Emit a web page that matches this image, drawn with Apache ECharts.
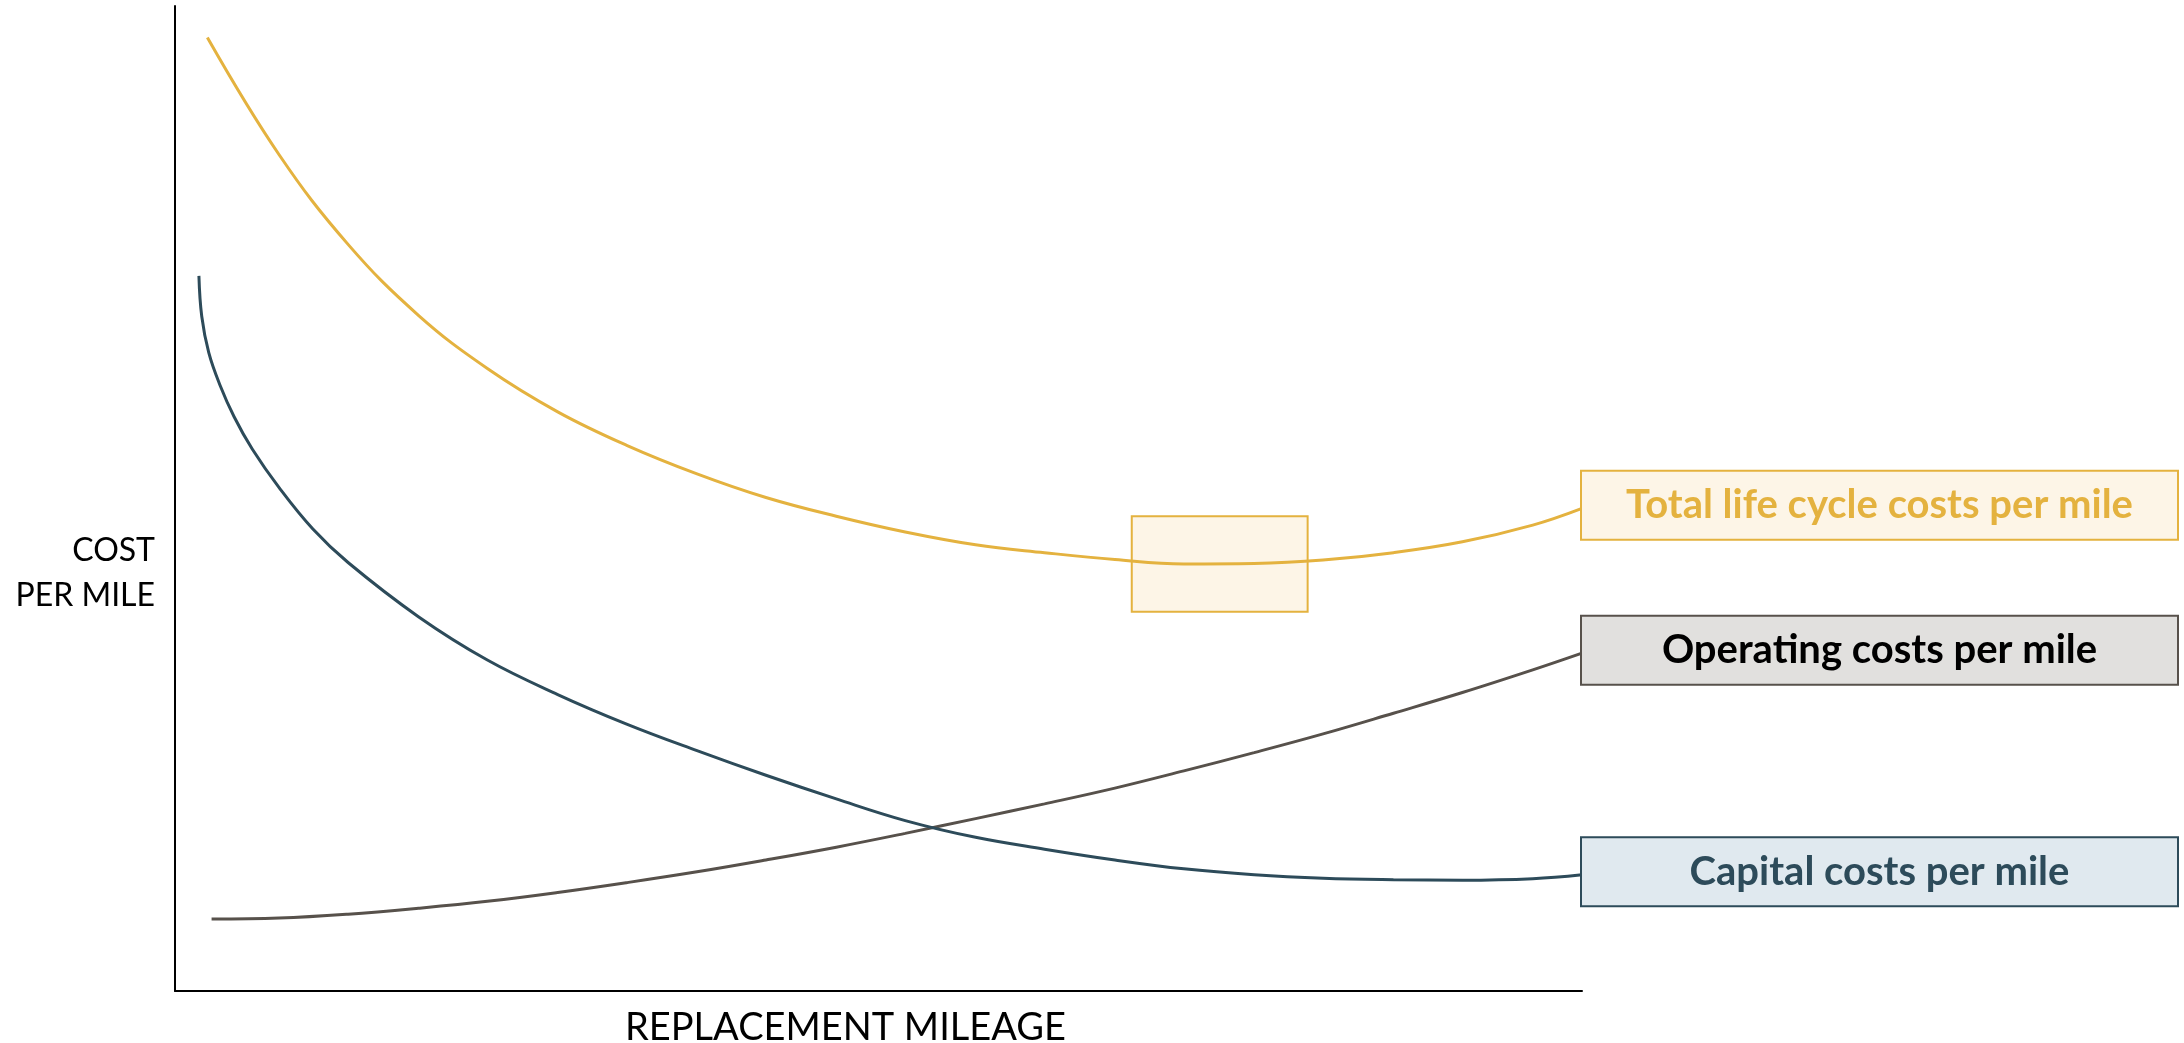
<!DOCTYPE html>
<html>
<head>
<meta charset="utf-8">
<title>Replacement mileage</title>
<script src="https://cdn.jsdelivr.net/npm/echarts@6/dist/echarts.min.js"></script>
<style>
  html, body { margin: 0; padding: 0; background: #fff; }
  #chart { width: 2184px; height: 1043px; }
</style>
</head>
<body>
<div id="chart"></div>
<script>
// conceptual units, 0-100 on both axes
const seriesNames = ['Total life cycle costs per mile', 'Operating costs per mile', 'Capital costs per mile'];

const totalCost = [
  [2.3, 96.8], [7.4, 84.9], [12.3, 75.8], [17.3, 68.6], [22.2, 63.2], [27.2, 58.8],
  [32.1, 55.4], [37.1, 52.5], [42.0, 50.1], [47.0, 48.2], [51.9, 46.6], [56.9, 45.3],
  [61.8, 44.5], [66.8, 43.8], [71.7, 43.35], [76.7, 43.4], [81.6, 43.75], [86.6, 44.5],
  [91.5, 45.6], [96.5, 47.3], [100, 49.0]
];

const operatingCost = [
  [2.6, 7.3], [7.4, 7.4], [12.3, 7.8], [17.3, 8.4], [22.2, 9.1], [27.2, 10.0],
  [32.1, 11.0], [37.1, 12.1], [42.0, 13.3], [47.0, 14.6], [51.9, 16.0], [56.9, 17.5],
  [61.8, 19.0], [66.8, 20.6], [71.7, 22.35], [76.7, 24.2], [81.6, 26.1], [86.6, 28.2],
  [91.5, 30.3], [96.5, 32.6], [100, 34.3]
];

const capitalCost = [
  [1.7, 72.6], [1.9, 68.5], [2.4, 64.8], [3.2, 61.5], [4.2, 58.3], [5.5, 55.0],
  [7.4, 51.1], [9.8, 46.9], [12.3, 43.5], [17.3, 38.0], [22.2, 33.6], [27.2, 30.1],
  [32.1, 27.1], [37.1, 24.4], [42.0, 21.9], [47.0, 19.5], [51.9, 17.3], [56.9, 15.6],
  [61.8, 14.4], [66.8, 13.3], [71.7, 12.4], [76.7, 11.8], [81.6, 11.45], [86.6, 11.3],
  [91.5, 11.25], [96.5, 11.4], [100, 11.8]
];

// highlighted optimum zone around the minimum of the total curve
const optimumMileage = [68.0, 80.5];
const optimumCost = [38.5, 48.2];

const colors = {
  total: '#E4B23F', totalFill: '#FDF5E7',
  operating: '#57514B', operatingFill: '#E1E0DE',
  capital: '#2D4B5A', capitalFill: '#E0E9EF'
};

function boxLabel(color, fill, border) {
  return {
    show: true,
    distance: 0,
    offset: [0, -3],
    formatter: '{a|{a}}',
    backgroundColor: fill,
    borderColor: border,
    borderWidth: 2,
    padding: 0,
    rich: {
      a: {
        width: 595,
        height: 67,
        lineHeight: 67,
        align: 'center',
        fontFamily: 'Lato',
        fontWeight: 'bold',
        fontSize: 40,
        color: color
      }
    }
  };
}

const myChart = echarts.init(document.getElementById('chart'));

const option = {
  animation: false,
  grid: { left: 175, right: 602, top: 6, bottom: 52, outerBoundsMode: 'none' },
  graphic: [
    {
      type: 'text',
      x: 155,
      y: 573,
      style: {
        text: 'COST\nPER MILE',
        align: 'right',
        verticalAlign: 'middle',
        fontFamily: 'Lato',
        fontSize: 32,
        lineHeight: 45,
        fill: '#000'
      }
    }
  ],
  xAxis: {
    type: 'value',
    min: 0,
    max: 100,
    name: 'REPLACEMENT MILEAGE',
    nameLocation: 'middle',
    nameGap: 18,
    nameTextStyle: { fontFamily: 'Lato', fontSize: 38, color: '#000', padding: [0, 66, 0, 0] },
    axisLine: { lineStyle: { color: '#000', width: 2 } },
    axisTick: { show: false },
    axisLabel: { show: false },
    splitLine: { show: false }
  },
  yAxis: {
    type: 'value',
    min: 0,
    max: 100,
    axisLine: { show: true, lineStyle: { color: '#000', width: 2 } },
    axisTick: { show: false },
    axisLabel: { show: false },
    splitLine: { show: false }
  },
  series: [
    {
      name: 'optimum',
      type: 'line',
      z: 1,
      data: [],
      markArea: {
        silent: true,
        itemStyle: { color: colors.totalFill, borderColor: colors.total, borderWidth: 2 },
        data: [[
          { xAxis: optimumMileage[0], yAxis: optimumCost[0] },
          { xAxis: optimumMileage[1], yAxis: optimumCost[1] }
        ]]
      }
    },
    {
      name: seriesNames[0],
      type: 'line',
      z: 3,
      smooth: 0.4,
      symbol: 'none',
      lineStyle: { color: colors.total, width: 3 },
      endLabel: boxLabel(colors.total, colors.totalFill, colors.total),
      data: totalCost
    },
    {
      name: seriesNames[1],
      type: 'line',
      z: 3,
      smooth: 0.4,
      symbol: 'none',
      lineStyle: { color: colors.operating, width: 3 },
      endLabel: boxLabel('#000', colors.operatingFill, colors.operating),
      data: operatingCost
    },
    {
      name: seriesNames[2],
      type: 'line',
      z: 3,
      smooth: 0.4,
      symbol: 'none',
      lineStyle: { color: colors.capital, width: 3 },
      endLabel: boxLabel(colors.capital, colors.capitalFill, colors.capital),
      data: capitalCost
    }
  ]
};

myChart.setOption(option);
</script>
</body>
</html>
